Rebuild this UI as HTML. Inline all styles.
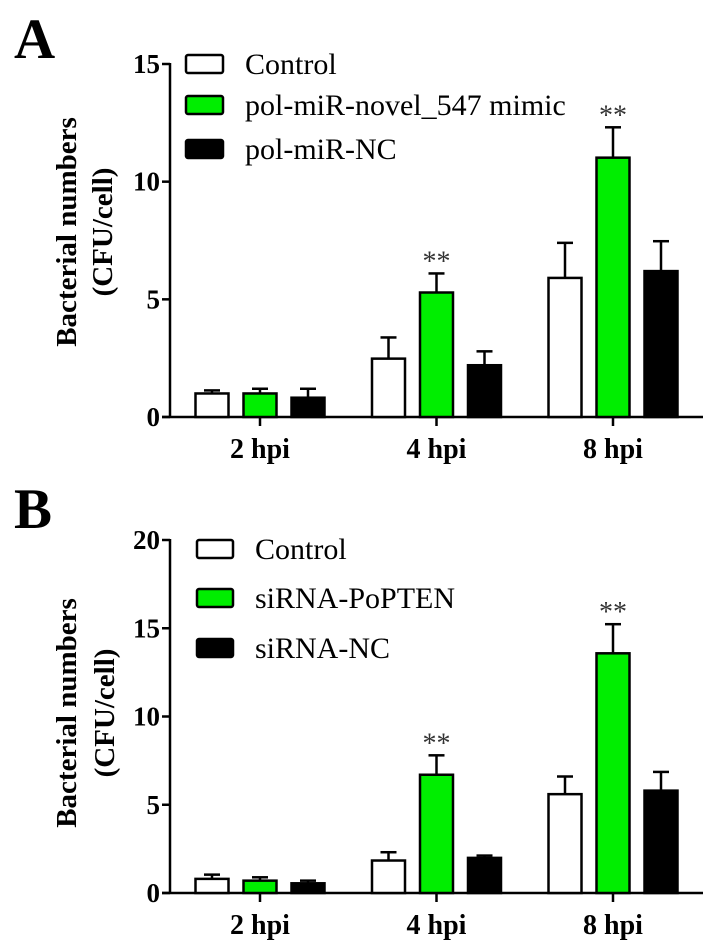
<!DOCTYPE html>
<html><head><meta charset="utf-8"><style>
html,body{margin:0;padding:0;background:#fff;}
svg{display:block;font-family:"Liberation Serif",serif;}
</style></head><body>
<svg id="fig" width="724" height="951" viewBox="0 0 724 951" xmlns="http://www.w3.org/2000/svg"></svg>
<script>
const categories = ["2 hpi","4 hpi","8 hpi"];
const seriesA = ["Control","pol-miR-novel_547 mimic","pol-miR-NC"];
const controlA = [1.0, 2.48, 5.91];
const controlAErr = [0.13, 0.9, 1.49];
const mimicA = [1.0, 5.29, 11.02];
const mimicAErr = [0.2, 0.81, 1.29];
const ncA = [0.82, 2.2, 6.2];
const ncAErr = [0.38, 0.59, 1.27];
const starsA = ["", "**", "**"];
const ticksA = [0,5,10,15];

const seriesB = ["Control","siRNA-PoPTEN","siRNA-NC"];
const controlB = [0.8, 1.84, 5.6];
const controlBErr = [0.24, 0.47, 1.0];
const sirnaB = [0.7, 6.7, 13.58];
const sirnaBErr = [0.19, 1.1, 1.65];
const ncB = [0.55, 1.99, 5.8];
const ncBErr = [0.15, 0.13, 1.06];
const starsB = ["", "**", "**"];
const ticksB = [0,5,10,15,20];

const NS = "http://www.w3.org/2000/svg";
const svg = document.getElementById("fig");
function mk(tag, attrs, parent, text){
  const e = document.createElementNS(NS, tag);
  for (const k in attrs) e.setAttribute(k, attrs[k]);
  if (text !== undefined) e.textContent = text;
  (parent||svg).appendChild(e);
  return e;
}
const fills = ["#ffffff","#00ee00","#000000"];

function panel(cfg){
  const g = mk("g", {});
  
  
  const yS = v => cfg.y0 - (v/cfg.max)*(cfg.y0-cfg.yTop);
  const groupX = i => cfg.gx0 + i*cfg.gStep;
  const barX = (i,s) => groupX(i) - 1.5*cfg.bw - cfg.gap + s*(cfg.bw+cfg.gap);
  const L = mk("text", {x:14, y:cfg.letterY, "font-size":57, "font-weight":"bold"}, g, cfg.letter);
  
  
  const t1 = mk("text", {x:0,y:0,"font-size":29,"font-weight":"bold","text-anchor":"middle",transform:`translate(${cfg.tx1},${cfg.tyc}) rotate(-90)`}, g, "Bacterial numbers");
  
  
  const t2 = mk("text", {x:0,y:0,"font-size":29,"font-weight":"bold","text-anchor":"middle",transform:`translate(${cfg.tx2},${cfg.tyc}) rotate(-90)`}, g, "(CFU/cell)");
  
  
  const ya = mk("line", {x1:cfg.ax, y1:yS(cfg.max)-1, x2:cfg.ax, y2:cfg.y0, stroke:"#000","stroke-width":2.5}, g);
  
  
  const xa = mk("line", {x1:cfg.ax-8, y1:cfg.y0, x2:cfg.axEnd, y2:cfg.y0, stroke:"#000","stroke-width":2.5}, g);
  
  
  cfg.ticks.forEach(v=>{
    const tk = mk("line", {x1:cfg.ax-8, y1:yS(v), x2:cfg.ax, y2:yS(v), stroke:"#000","stroke-width":2.5}, g);
    
    
    const tl = mk("text", {x:cfg.ax-10, y:yS(v)+9, "font-size":27, "font-weight":"bold","text-anchor":"end"}, g, String(v));
    
    
  });
  categories.forEach((c,i)=>{
    const tk = mk("line", {x1:groupX(i), y1:cfg.y0, x2:groupX(i), y2:cfg.y0+9, stroke:"#000","stroke-width":2.5}, g);
    
    
    const tl = mk("text", {x:groupX(i), y:cfg.y0+41, "font-size":28, "font-weight":"bold","text-anchor":"middle"}, g, c);
    
    
    cfg.vals.forEach((arr,s)=>{
      const v = arr[i], e = cfg.errs[s][i];
      const x = barX(i,s), cx = x + cfg.bw/2;
      const el = mk("line", {x1:cx, y1:yS(v), x2:cx, y2:yS(v+e), stroke:"#000","stroke-width":2.5}, g);
      
      
      const cap = mk("line", {x1:cx-8, y1:yS(v+e), x2:cx+8, y2:yS(v+e), stroke:"#000","stroke-width":2.5}, g);
      
      
      const r = mk("rect", {x:x, y:yS(v), width:cfg.bw, height:cfg.y0-yS(v), fill:fills[s], stroke:"#000","stroke-width":2.5}, g);
      
      
    });
    if (cfg.stars[i]) {
      const s = 1, v = cfg.vals[s][i] + cfg.errs[s][i];
      const st = mk("text", {x:barX(i,s)+cfg.bw/2, y:yS(v)-3, "font-size":28, fill:"#333","text-anchor":"middle"}, g, cfg.stars[i]);
      
      
    }
  });
  cfg.series.forEach((name,s)=>{
    const ly = cfg.legY[s];
    const b = mk("rect", {x:cfg.legX, y:ly, width:cfg.legW, height:18, rx:2, fill:fills[s], stroke:"#000","stroke-width":2.5}, g);
    
    
    const t = mk("text", {x:cfg.legTX, y:ly+19, "font-size":30}, g, name);
    
    
  });
}

panel({name:"panel-a", letter:"A", letterY:58, tx1:76, tx2:112, tyc:232,
  ax:170, axEnd:703, y0:417, yTop:64, max:15, ticks:ticksA,
  gx0:260, gStep:176.5, bw:33, gap:15,
  vals:[controlA, mimicA, ncA], errs:[controlAErr, mimicAErr, ncAErr], stars:starsA,
  series:seriesA, legX:186, legW:37, legY:[55,96,140], legTX:245});
panel({name:"panel-b", letter:"B", letterY:528, tx1:76, tx2:114, tyc:713,
  ax:170, axEnd:703, y0:893, yTop:540, max:20, ticks:ticksB,
  gx0:260, gStep:176.5, bw:33, gap:15,
  vals:[controlB, sirnaB, ncB], errs:[controlBErr, sirnaBErr, ncBErr], stars:starsB,
  series:seriesB, legX:197, legW:36, legY:[540,589,639], legTX:255});
</script>
</body></html>
